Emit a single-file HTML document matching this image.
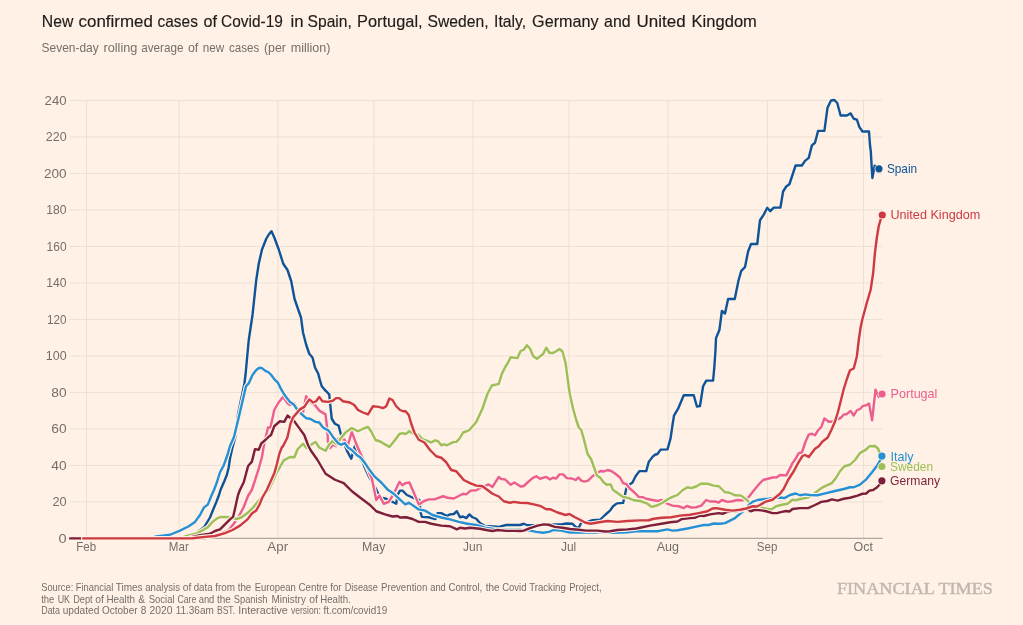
<!DOCTYPE html>
<html lang="en"><head><meta charset="utf-8"><title>Covid-19 new confirmed cases</title>
<style>html,body{margin:0;padding:0;background:#fff1e5;}body{width:1023px;height:625px;overflow:hidden;}svg{display:block;}text{font-family:"Liberation Sans",Arial,sans-serif;}</style></head><body>
<svg width="1023" height="625" viewBox="0 0 1023 625">
<rect width="1023" height="625" fill="#fff1e5"/>
<text y="27.2" font-size="16.2" fill="#1f1c1a" stroke="#1f1c1a" stroke-width="0.15"><tspan x="41.85" textLength="31.50" lengthAdjust="spacingAndGlyphs">New</tspan> <tspan x="78.60" textLength="74.25" lengthAdjust="spacingAndGlyphs">confirmed</tspan> <tspan x="157.60" textLength="40.25" lengthAdjust="spacingAndGlyphs">cases</tspan> <tspan x="203.60" textLength="13.50" lengthAdjust="spacingAndGlyphs">of</tspan> <tspan x="221.10" textLength="61.75" lengthAdjust="spacingAndGlyphs">Covid-19</tspan> <tspan x="290.60" textLength="13.00" lengthAdjust="spacingAndGlyphs">in</tspan> <tspan x="307.60" textLength="44.25" lengthAdjust="spacingAndGlyphs">Spain,</tspan> <tspan x="357.10" textLength="65.50" lengthAdjust="spacingAndGlyphs">Portugal,</tspan> <tspan x="427.60" textLength="61.00" lengthAdjust="spacingAndGlyphs">Sweden,</tspan> <tspan x="494.10" textLength="32.00" lengthAdjust="spacingAndGlyphs">Italy,</tspan> <tspan x="532.10" textLength="66.50" lengthAdjust="spacingAndGlyphs">Germany</tspan> <tspan x="604.10" textLength="26.50" lengthAdjust="spacingAndGlyphs">and</tspan> <tspan x="636.60" textLength="49.00" lengthAdjust="spacingAndGlyphs">United</tspan> <tspan x="691.60" textLength="65.25" lengthAdjust="spacingAndGlyphs">Kingdom</tspan></text>
<text y="52.20" font-size="12.6" fill="#756f6a"><tspan x="41.60" textLength="57.10" lengthAdjust="spacingAndGlyphs">Seven-day</tspan> <tspan x="103.45" textLength="33.90" lengthAdjust="spacingAndGlyphs">rolling</tspan> <tspan x="141.20" textLength="42.20" lengthAdjust="spacingAndGlyphs">average</tspan> <tspan x="187.90" textLength="10.40" lengthAdjust="spacingAndGlyphs">of</tspan> <tspan x="202.70" textLength="21.40" lengthAdjust="spacingAndGlyphs">new</tspan> <tspan x="228.90" textLength="30.30" lengthAdjust="spacingAndGlyphs">cases</tspan> <tspan x="263.90" textLength="22.00" lengthAdjust="spacingAndGlyphs">(per</tspan> <tspan x="290.70" textLength="39.80" lengthAdjust="spacingAndGlyphs">million)</tspan></text>
<g stroke="#ebe0d5" stroke-width="1" fill="none"><line x1="69.5" x2="882.5" y1="501.90" y2="501.90"/><line x1="69.5" x2="882.5" y1="465.41" y2="465.41"/><line x1="69.5" x2="882.5" y1="428.91" y2="428.91"/><line x1="69.5" x2="882.5" y1="392.42" y2="392.42"/><line x1="69.5" x2="882.5" y1="355.92" y2="355.92"/><line x1="69.5" x2="882.5" y1="319.42" y2="319.42"/><line x1="69.5" x2="882.5" y1="282.93" y2="282.93"/><line x1="69.5" x2="882.5" y1="246.43" y2="246.43"/><line x1="69.5" x2="882.5" y1="209.94" y2="209.94"/><line x1="69.5" x2="882.5" y1="173.44" y2="173.44"/><line x1="69.5" x2="882.5" y1="136.94" y2="136.94"/><line x1="69.5" x2="882.5" y1="100.45" y2="100.45"/><line x1="86.50" x2="86.50" y1="99.95" y2="538.4"/><line x1="179.10" x2="179.10" y1="99.95" y2="538.4"/><line x1="278.00" x2="278.00" y1="99.95" y2="538.4"/><line x1="374.00" x2="374.00" y1="99.95" y2="538.4"/><line x1="473.00" x2="473.00" y1="99.95" y2="538.4"/><line x1="568.90" x2="568.90" y1="99.95" y2="538.4"/><line x1="668.10" x2="668.10" y1="99.95" y2="538.4"/><line x1="767.40" x2="767.40" y1="99.95" y2="538.4"/><line x1="863.50" x2="863.50" y1="99.95" y2="538.4"/></g>
<line x1="69.5" x2="882.8" y1="538.4" y2="538.4" stroke="#b0a8a0" stroke-width="1.2"/>
<g font-size="13" fill="#756f6a" text-anchor="end"><text x="66.6" y="542.60" textLength="8.1" lengthAdjust="spacingAndGlyphs">0</text><text x="66.6" y="506.10" textLength="14.2" lengthAdjust="spacingAndGlyphs">20</text><text x="66.6" y="469.61" textLength="15.3" lengthAdjust="spacingAndGlyphs">40</text><text x="66.6" y="433.11" textLength="15.3" lengthAdjust="spacingAndGlyphs">60</text><text x="66.6" y="396.62" textLength="15.3" lengthAdjust="spacingAndGlyphs">80</text><text x="66.6" y="360.12" textLength="20.8" lengthAdjust="spacingAndGlyphs">100</text><text x="66.6" y="323.62" textLength="19.5" lengthAdjust="spacingAndGlyphs">120</text><text x="66.6" y="287.13" textLength="20.3" lengthAdjust="spacingAndGlyphs">140</text><text x="66.6" y="250.63" textLength="20.0" lengthAdjust="spacingAndGlyphs">160</text><text x="66.6" y="214.14" textLength="20.3" lengthAdjust="spacingAndGlyphs">180</text><text x="66.6" y="177.64" textLength="22.6" lengthAdjust="spacingAndGlyphs">200</text><text x="66.6" y="141.14" textLength="20.8" lengthAdjust="spacingAndGlyphs">220</text><text x="66.6" y="104.65" textLength="22.0" lengthAdjust="spacingAndGlyphs">240</text></g>
<g font-size="13" fill="#756f6a"><text x="76.25" y="550.5" textLength="19.9" lengthAdjust="spacingAndGlyphs">Feb</text><text x="168.85" y="550.5" textLength="19.9" lengthAdjust="spacingAndGlyphs">Mar</text><text x="267.30" y="550.5" textLength="20.8" lengthAdjust="spacingAndGlyphs">Apr</text><text x="362.05" y="550.5" textLength="23.3" lengthAdjust="spacingAndGlyphs">May</text><text x="463.05" y="550.5" textLength="19.3" lengthAdjust="spacingAndGlyphs">Jun</text><text x="560.95" y="550.5" textLength="15.3" lengthAdjust="spacingAndGlyphs">Jul</text><text x="656.65" y="550.5" textLength="22.3" lengthAdjust="spacingAndGlyphs">Aug</text><text x="756.85" y="550.5" textLength="20.5" lengthAdjust="spacingAndGlyphs">Sep</text><text x="853.55" y="550.5" textLength="19.3" lengthAdjust="spacingAndGlyphs">Oct</text></g>
<g fill="none" stroke-linejoin="round" stroke-linecap="round">
<path d="M70.10,538.40 L182.50,538.00 L195.00,533.75 L204.40,526.90 L210.00,517.50 L213.00,510.00 L216.25,502.25 L219.00,495.00 L220.60,489.75 L224.40,481.00 L226.90,474.75 L228.75,467.25 L230.00,458.50 L232.50,447.25 L235.00,438.50 L238.10,413.75 L244.40,383.75 L245.50,375.00 L248.75,340.00 L252.50,315.00 L256.25,280.00 L258.75,263.75 L262.00,249.50 L266.25,238.75 L268.75,234.50 L271.50,231.25 L274.50,238.00 L278.75,249.50 L283.25,263.75 L287.50,270.00 L291.25,281.25 L294.50,298.75 L297.50,307.50 L301.00,317.50 L303.00,332.50 L306.25,345.00 L309.25,353.75 L312.50,357.50 L315.00,367.50 L318.25,373.75 L319.90,380.00 L321.75,386.25 L325.50,390.60 L329.25,394.40 L330.25,405.00 L331.75,418.75 L334.90,423.75 L338.60,425.60 L341.10,435.00 L344.00,443.00 L346.90,450.60 L351.25,458.75 L355.00,445.60 L357.00,453.00 L360.00,458.50 L363.00,462.50 L365.00,468.10 L368.75,476.25 L372.50,483.00 L376.25,489.40 L380.00,497.50 L386.25,498.75 L391.25,501.25 L396.25,503.75 L397.50,495.00 L400.00,490.60 L402.50,490.60 L406.90,495.00 L412.50,497.50 L419.40,500.00 L420.60,512.50 L421.90,516.90 L428.75,517.25 L435.60,519.00" stroke="#fff1e5" stroke-width="4.6"/>
<path d="M437.50,513.10 L441.25,513.10 L446.90,516.00 L450.00,514.40 L453.75,514.00 L456.90,511.25 L460.00,517.25 L463.10,516.50 L466.25,518.10 L469.40,514.40 L472.50,517.25 L476.25,518.75 L480.00,523.10 L485.00,526.00 L490.00,526.25 L498.75,526.90 L506.25,525.00 L513.75,525.00 L520.00,525.00 L523.75,523.75 L527.50,525.25 L535.00,525.25 L555.00,524.40 L561.25,524.40 L566.25,523.50 L572.50,523.75 L575.60,526.90 L578.75,528.10 L581.25,522.50 L587.50,521.90 L592.50,520.25 L600.00,519.75 L605.00,515.00 L610.00,510.60 L613.10,506.25 L616.90,503.40 L623.10,502.90 L624.40,497.50 L626.25,488.75 L628.75,485.00 L632.50,482.50 L635.60,476.25 L639.40,471.10 L646.25,471.10 L648.75,461.90 L652.50,456.90 L655.00,454.75 L657.50,454.00 L660.60,449.60 L667.50,449.40 L670.60,438.10 L672.50,425.00 L674.00,415.60 L678.10,408.70 L683.75,395.25 L693.75,395.25 L696.90,406.50 L700.00,406.00 L703.10,386.25 L706.25,380.60 L713.10,380.60 L714.40,366.25 L715.50,350.00 L716.00,338.10 L719.40,330.00 L721.90,311.00 L725.00,313.50 L728.10,299.00 L734.75,299.00 L738.50,280.50 L741.25,270.90 L745.00,267.10 L748.10,251.50 L751.00,244.00 L757.25,244.00 L760.00,220.25 L763.75,214.60 L767.25,207.75 L770.25,211.20 L773.75,207.60 L780.40,207.60 L783.10,191.50 L786.25,186.50 L789.40,184.25 L795.60,165.50 L801.90,165.50 L805.00,160.90 L808.75,157.90 L811.90,145.40 L815.00,142.75 L818.10,130.90 L824.40,130.90 L827.50,107.75 L831.00,100.50 L834.40,100.00 L837.25,103.00 L840.60,115.50 L846.90,115.50 L850.60,113.40 L853.75,118.75 L856.90,119.60 L859.40,127.10 L862.50,131.50 L869.00,131.50 L870.00,145.25 L870.80,151.50 L872.35,178.00 L874.70,165.80 L878.95,168.80" stroke="#fff1e5" stroke-width="4.6"/>
<path d="M70.10,538.40 L182.50,538.00 L195.00,533.75 L204.40,526.90 L210.00,517.50 L213.00,510.00 L216.25,502.25 L219.00,495.00 L220.60,489.75 L224.40,481.00 L226.90,474.75 L228.75,467.25 L230.00,458.50 L232.50,447.25 L235.00,438.50 L238.10,413.75 L244.40,383.75 L245.50,375.00 L248.75,340.00 L252.50,315.00 L256.25,280.00 L258.75,263.75 L262.00,249.50 L266.25,238.75 L268.75,234.50 L271.50,231.25 L274.50,238.00 L278.75,249.50 L283.25,263.75 L287.50,270.00 L291.25,281.25 L294.50,298.75 L297.50,307.50 L301.00,317.50 L303.00,332.50 L306.25,345.00 L309.25,353.75 L312.50,357.50 L315.00,367.50 L318.25,373.75 L319.90,380.00 L321.75,386.25 L325.50,390.60 L329.25,394.40 L330.25,405.00 L331.75,418.75 L334.90,423.75 L338.60,425.60 L341.10,435.00 L344.00,443.00 L346.90,450.60 L351.25,458.75 L355.00,445.60 L357.00,453.00 L360.00,458.50 L363.00,462.50 L365.00,468.10 L368.75,476.25 L372.50,483.00 L376.25,489.40 L380.00,497.50 L386.25,498.75 L391.25,501.25 L396.25,503.75 L397.50,495.00 L400.00,490.60 L402.50,490.60 L406.90,495.00 L412.50,497.50 L419.40,500.00 L420.60,512.50 L421.90,516.90 L428.75,517.25 L435.60,519.00" stroke="#0f5499" stroke-width="2.4"/>
<path d="M437.50,513.10 L441.25,513.10 L446.90,516.00 L450.00,514.40 L453.75,514.00 L456.90,511.25 L460.00,517.25 L463.10,516.50 L466.25,518.10 L469.40,514.40 L472.50,517.25 L476.25,518.75 L480.00,523.10 L485.00,526.00 L490.00,526.25 L498.75,526.90 L506.25,525.00 L513.75,525.00 L520.00,525.00 L523.75,523.75 L527.50,525.25 L535.00,525.25 L555.00,524.40 L561.25,524.40 L566.25,523.50 L572.50,523.75 L575.60,526.90 L578.75,528.10 L581.25,522.50 L587.50,521.90 L592.50,520.25 L600.00,519.75 L605.00,515.00 L610.00,510.60 L613.10,506.25 L616.90,503.40 L623.10,502.90 L624.40,497.50 L626.25,488.75 L628.75,485.00 L632.50,482.50 L635.60,476.25 L639.40,471.10 L646.25,471.10 L648.75,461.90 L652.50,456.90 L655.00,454.75 L657.50,454.00 L660.60,449.60 L667.50,449.40 L670.60,438.10 L672.50,425.00 L674.00,415.60 L678.10,408.70 L683.75,395.25 L693.75,395.25 L696.90,406.50 L700.00,406.00 L703.10,386.25 L706.25,380.60 L713.10,380.60 L714.40,366.25 L715.50,350.00 L716.00,338.10 L719.40,330.00 L721.90,311.00 L725.00,313.50 L728.10,299.00 L734.75,299.00 L738.50,280.50 L741.25,270.90 L745.00,267.10 L748.10,251.50 L751.00,244.00 L757.25,244.00 L760.00,220.25 L763.75,214.60 L767.25,207.75 L770.25,211.20 L773.75,207.60 L780.40,207.60 L783.10,191.50 L786.25,186.50 L789.40,184.25 L795.60,165.50 L801.90,165.50 L805.00,160.90 L808.75,157.90 L811.90,145.40 L815.00,142.75 L818.10,130.90 L824.40,130.90 L827.50,107.75 L831.00,100.50 L834.40,100.00 L837.25,103.00 L840.60,115.50 L846.90,115.50 L850.60,113.40 L853.75,118.75 L856.90,119.60 L859.40,127.10 L862.50,131.50 L869.00,131.50 L870.00,145.25 L870.80,151.50 L872.35,178.00 L874.70,165.80 L878.95,168.80" stroke="#0f5499" stroke-width="2.4"/>
</g>
<g fill="none" stroke-linejoin="round" stroke-linecap="round">
<path d="M70.10,538.40 L205.00,538.30 L210.00,536.25 L220.00,533.75 L228.75,530.00 L233.75,523.75 L238.75,516.50 L243.75,507.00 L248.00,496.00 L251.90,489.75 L255.00,480.40 L258.75,468.50 L261.90,457.25 L264.30,443.00 L268.00,427.50 L270.50,427.50 L274.25,410.00 L278.60,402.50 L283.00,396.90 L287.40,403.10 L290.00,405.00 L294.25,403.10 L297.00,408.00 L303.00,412.50 L306.10,396.25 L310.50,402.50 L314.90,405.00 L319.25,410.60 L325.50,414.40 L327.40,430.00 L328.00,442.50 L329.90,448.10 L333.00,445.00 L336.10,446.25 L338.00,438.75 L344.25,439.40 L348.00,445.00 L351.75,431.90 L356.75,445.00 L360.00,452.50 L363.10,458.75 L366.00,465.00 L371.90,478.75 L376.25,500.00 L379.40,495.60 L383.75,503.75 L388.75,501.90 L393.75,493.75 L399.40,481.90 L402.50,485.30 L405.60,483.10 L409.40,482.50 L413.75,492.50 L418.75,504.40 L423.75,501.25 L428.75,499.40 L434.40,499.40 L443.10,496.25 L447.50,497.75 L453.75,498.50 L458.75,496.00 L463.10,493.75 L466.25,494.40 L470.60,490.60 L476.25,490.25 L481.25,487.50 L488.75,484.40 L492.50,486.90 L498.75,476.90 L501.25,479.00 L505.00,479.40 L510.60,484.75 L514.40,482.50 L520.60,486.50 L523.75,486.00 L527.50,482.50 L532.50,478.10 L536.25,476.25 L540.00,478.75 L546.25,476.90 L550.00,479.40 L553.10,477.75 L556.25,478.50 L559.40,474.40 L563.10,474.40 L566.90,478.10 L571.90,478.50 L575.60,480.00 L578.50,477.50 L581.25,480.60 L584.40,481.60 L588.10,480.60 L592.50,476.25 L596.50,473.50 L600.60,471.00 L603.75,471.50 L607.50,470.00 L611.25,471.00 L615.00,473.50 L620.00,477.50 L623.10,483.10 L626.25,484.00 L629.40,488.10 L634.40,492.50 L638.75,496.90 L643.10,497.25 L646.25,498.75 L652.50,500.00 L657.50,501.00 L661.90,500.00 L666.90,503.50 L672.50,505.60 L678.75,506.25 L683.75,508.10 L686.90,506.00 L691.25,507.50 L696.25,507.25 L701.25,505.60 L706.25,500.00 L710.00,501.50 L715.00,501.50 L718.75,502.50 L721.90,500.00 L727.50,501.90 L732.50,501.25 L737.50,500.00 L742.50,500.40 L746.00,499.50 L748.75,496.90 L753.75,490.60 L758.75,484.40 L763.10,480.00 L767.00,479.00 L772.50,477.50 L776.90,477.25 L780.00,475.00 L786.25,475.40 L789.40,469.40 L792.50,463.10 L795.60,458.75 L798.75,453.10 L801.90,452.50 L805.60,441.50 L808.75,434.60 L811.90,433.75 L815.00,435.25 L818.10,430.25 L821.25,427.10 L824.40,418.40 L828.75,421.75 L832.50,421.50 L836.50,419.50 L840.60,418.00 L843.75,414.60 L846.90,414.00 L850.60,410.90 L853.75,415.50 L856.90,410.25 L860.00,409.00 L863.10,405.90 L866.25,405.25 L869.00,403.40 L872.10,420.25 L875.50,389.70 L878.70,397.00 L882.00,393.90" stroke="#fff1e5" stroke-width="4.6"/>
<path d="M70.10,538.40 L205.00,538.30 L210.00,536.25 L220.00,533.75 L228.75,530.00 L233.75,523.75 L238.75,516.50 L243.75,507.00 L248.00,496.00 L251.90,489.75 L255.00,480.40 L258.75,468.50 L261.90,457.25 L264.30,443.00 L268.00,427.50 L270.50,427.50 L274.25,410.00 L278.60,402.50 L283.00,396.90 L287.40,403.10 L290.00,405.00 L294.25,403.10 L297.00,408.00 L303.00,412.50 L306.10,396.25 L310.50,402.50 L314.90,405.00 L319.25,410.60 L325.50,414.40 L327.40,430.00 L328.00,442.50 L329.90,448.10 L333.00,445.00 L336.10,446.25 L338.00,438.75 L344.25,439.40 L348.00,445.00 L351.75,431.90 L356.75,445.00 L360.00,452.50 L363.10,458.75 L366.00,465.00 L371.90,478.75 L376.25,500.00 L379.40,495.60 L383.75,503.75 L388.75,501.90 L393.75,493.75 L399.40,481.90 L402.50,485.30 L405.60,483.10 L409.40,482.50 L413.75,492.50 L418.75,504.40 L423.75,501.25 L428.75,499.40 L434.40,499.40 L443.10,496.25 L447.50,497.75 L453.75,498.50 L458.75,496.00 L463.10,493.75 L466.25,494.40 L470.60,490.60 L476.25,490.25 L481.25,487.50 L488.75,484.40 L492.50,486.90 L498.75,476.90 L501.25,479.00 L505.00,479.40 L510.60,484.75 L514.40,482.50 L520.60,486.50 L523.75,486.00 L527.50,482.50 L532.50,478.10 L536.25,476.25 L540.00,478.75 L546.25,476.90 L550.00,479.40 L553.10,477.75 L556.25,478.50 L559.40,474.40 L563.10,474.40 L566.90,478.10 L571.90,478.50 L575.60,480.00 L578.50,477.50 L581.25,480.60 L584.40,481.60 L588.10,480.60 L592.50,476.25 L596.50,473.50 L600.60,471.00 L603.75,471.50 L607.50,470.00 L611.25,471.00 L615.00,473.50 L620.00,477.50 L623.10,483.10 L626.25,484.00 L629.40,488.10 L634.40,492.50 L638.75,496.90 L643.10,497.25 L646.25,498.75 L652.50,500.00 L657.50,501.00 L661.90,500.00 L666.90,503.50 L672.50,505.60 L678.75,506.25 L683.75,508.10 L686.90,506.00 L691.25,507.50 L696.25,507.25 L701.25,505.60 L706.25,500.00 L710.00,501.50 L715.00,501.50 L718.75,502.50 L721.90,500.00 L727.50,501.90 L732.50,501.25 L737.50,500.00 L742.50,500.40 L746.00,499.50 L748.75,496.90 L753.75,490.60 L758.75,484.40 L763.10,480.00 L767.00,479.00 L772.50,477.50 L776.90,477.25 L780.00,475.00 L786.25,475.40 L789.40,469.40 L792.50,463.10 L795.60,458.75 L798.75,453.10 L801.90,452.50 L805.60,441.50 L808.75,434.60 L811.90,433.75 L815.00,435.25 L818.10,430.25 L821.25,427.10 L824.40,418.40 L828.75,421.75 L832.50,421.50 L836.50,419.50 L840.60,418.00 L843.75,414.60 L846.90,414.00 L850.60,410.90 L853.75,415.50 L856.90,410.25 L860.00,409.00 L863.10,405.90 L866.25,405.25 L869.00,403.40 L872.10,420.25 L875.50,389.70 L878.70,397.00 L882.00,393.90" stroke="#eb5e8d" stroke-width="2.4"/>
</g>
<g fill="none" stroke-linejoin="round" stroke-linecap="round">
<path d="M70.10,538.40 L180.00,538.30 L187.50,535.60 L197.50,533.10 L207.50,527.50 L212.50,521.90 L217.50,518.10 L221.25,516.90 L230.00,517.25 L236.25,519.00 L241.25,517.50 L247.50,513.10 L253.10,507.50 L257.50,502.10 L263.00,496.00 L268.75,489.75 L276.25,473.50 L283.75,460.40 L290.00,457.00 L294.40,457.30 L297.50,449.50 L299.25,447.50 L303.00,443.75 L306.75,448.10 L310.50,445.00 L315.50,441.90 L319.25,447.50 L325.50,450.80 L329.25,444.40 L332.40,441.25 L336.75,444.40 L340.50,438.75 L345.50,432.50 L351.75,428.10 L358.00,431.25 L363.00,428.75 L368.00,426.90 L371.10,431.25 L375.50,440.00 L380.20,441.50 L385.00,444.40 L389.40,446.90 L395.00,440.00 L399.40,434.00 L402.50,433.10 L405.60,434.00 L409.40,431.25 L413.00,433.50 L418.75,435.00 L422.50,439.40 L426.90,440.60 L431.25,442.50 L435.00,440.40 L438.10,441.25 L441.25,445.25 L443.75,444.40 L446.90,445.25 L453.10,442.10 L456.25,441.90 L459.40,438.75 L463.10,432.50 L466.25,431.50 L469.40,430.00 L476.25,421.90 L482.50,408.50 L487.50,393.75 L491.90,385.50 L498.75,383.90 L501.90,373.75 L505.00,367.50 L508.10,362.50 L510.60,357.25 L517.50,358.10 L520.60,351.00 L523.75,349.75 L526.90,345.25 L530.00,348.50 L533.10,356.00 L536.90,358.75 L543.10,354.00 L546.25,347.75 L549.40,352.75 L552.50,353.10 L556.25,351.25 L559.40,349.00 L562.50,351.50 L565.60,363.10 L567.50,377.50 L569.40,391.25 L570.00,395.00 L573.10,408.75 L576.25,420.00 L578.75,427.50 L581.25,430.00 L583.75,438.75 L587.50,453.75 L591.25,459.50 L596.90,475.60 L600.60,478.10 L603.75,482.50 L606.90,484.75 L610.60,484.40 L613.10,490.00 L617.50,493.10 L623.10,496.90 L628.75,498.10 L633.75,500.25 L640.00,501.00 L646.25,503.10 L651.90,506.90 L657.50,505.25 L662.50,502.75 L668.10,499.00 L672.50,496.90 L677.50,495.00 L682.50,490.25 L687.50,487.25 L691.25,488.10 L696.25,486.50 L700.60,483.75 L707.50,483.75 L713.75,485.60 L718.75,486.25 L725.00,492.25 L728.75,492.50 L735.00,495.25 L741.25,495.60 L746.25,499.40 L750.00,503.10 L755.00,505.50 L760.00,507.30 L766.25,508.75 L771.25,509.40 L776.25,506.25 L781.90,504.75 L787.50,503.75 L792.50,499.75 L795.60,500.25 L802.50,498.50 L808.75,497.25 L815.00,493.00 L821.25,488.10 L826.25,485.60 L831.90,483.10 L836.25,477.50 L840.00,471.25 L844.40,466.25 L850.00,464.75 L855.00,460.00 L860.00,453.10 L866.25,449.40 L869.40,446.25 L875.00,446.00 L878.10,448.75 L880.00,453.75 L881.90,466.50" stroke="#fff1e5" stroke-width="4.6"/>
<path d="M70.10,538.40 L180.00,538.30 L187.50,535.60 L197.50,533.10 L207.50,527.50 L212.50,521.90 L217.50,518.10 L221.25,516.90 L230.00,517.25 L236.25,519.00 L241.25,517.50 L247.50,513.10 L253.10,507.50 L257.50,502.10 L263.00,496.00 L268.75,489.75 L276.25,473.50 L283.75,460.40 L290.00,457.00 L294.40,457.30 L297.50,449.50 L299.25,447.50 L303.00,443.75 L306.75,448.10 L310.50,445.00 L315.50,441.90 L319.25,447.50 L325.50,450.80 L329.25,444.40 L332.40,441.25 L336.75,444.40 L340.50,438.75 L345.50,432.50 L351.75,428.10 L358.00,431.25 L363.00,428.75 L368.00,426.90 L371.10,431.25 L375.50,440.00 L380.20,441.50 L385.00,444.40 L389.40,446.90 L395.00,440.00 L399.40,434.00 L402.50,433.10 L405.60,434.00 L409.40,431.25 L413.00,433.50 L418.75,435.00 L422.50,439.40 L426.90,440.60 L431.25,442.50 L435.00,440.40 L438.10,441.25 L441.25,445.25 L443.75,444.40 L446.90,445.25 L453.10,442.10 L456.25,441.90 L459.40,438.75 L463.10,432.50 L466.25,431.50 L469.40,430.00 L476.25,421.90 L482.50,408.50 L487.50,393.75 L491.90,385.50 L498.75,383.90 L501.90,373.75 L505.00,367.50 L508.10,362.50 L510.60,357.25 L517.50,358.10 L520.60,351.00 L523.75,349.75 L526.90,345.25 L530.00,348.50 L533.10,356.00 L536.90,358.75 L543.10,354.00 L546.25,347.75 L549.40,352.75 L552.50,353.10 L556.25,351.25 L559.40,349.00 L562.50,351.50 L565.60,363.10 L567.50,377.50 L569.40,391.25 L570.00,395.00 L573.10,408.75 L576.25,420.00 L578.75,427.50 L581.25,430.00 L583.75,438.75 L587.50,453.75 L591.25,459.50 L596.90,475.60 L600.60,478.10 L603.75,482.50 L606.90,484.75 L610.60,484.40 L613.10,490.00 L617.50,493.10 L623.10,496.90 L628.75,498.10 L633.75,500.25 L640.00,501.00 L646.25,503.10 L651.90,506.90 L657.50,505.25 L662.50,502.75 L668.10,499.00 L672.50,496.90 L677.50,495.00 L682.50,490.25 L687.50,487.25 L691.25,488.10 L696.25,486.50 L700.60,483.75 L707.50,483.75 L713.75,485.60 L718.75,486.25 L725.00,492.25 L728.75,492.50 L735.00,495.25 L741.25,495.60 L746.25,499.40 L750.00,503.10 L755.00,505.50 L760.00,507.30 L766.25,508.75 L771.25,509.40 L776.25,506.25 L781.90,504.75 L787.50,503.75 L792.50,499.75 L795.60,500.25 L802.50,498.50 L808.75,497.25 L815.00,493.00 L821.25,488.10 L826.25,485.60 L831.90,483.10 L836.25,477.50 L840.00,471.25 L844.40,466.25 L850.00,464.75 L855.00,460.00 L860.00,453.10 L866.25,449.40 L869.40,446.25 L875.00,446.00 L878.10,448.75 L880.00,453.75 L881.90,466.50" stroke="#9dbf57" stroke-width="2.4"/>
</g>
<g fill="none" stroke-linejoin="round" stroke-linecap="round">
<path d="M70.10,538.40 L150.00,538.30 L156.25,536.50 L162.50,535.60 L170.00,534.75 L180.00,530.60 L188.75,526.25 L195.00,521.90 L200.00,515.00 L204.00,507.40 L207.80,504.60 L211.50,495.50 L214.40,489.00 L216.90,482.25 L220.00,472.25 L223.75,465.40 L227.50,454.75 L230.00,446.00 L234.00,437.00 L239.60,413.75 L246.00,386.20 L248.90,383.10 L252.50,375.00 L256.25,370.00 L259.40,367.75 L261.90,368.10 L265.00,370.60 L268.75,372.50 L271.25,375.00 L274.40,379.40 L277.75,382.50 L280.60,388.10 L283.75,393.75 L286.90,398.10 L290.00,401.90 L293.75,404.40 L297.50,410.00 L300.50,413.10 L306.10,418.10 L310.50,419.00 L315.50,421.90 L319.25,422.50 L323.00,427.50 L328.60,430.60 L333.00,436.90 L338.00,443.10 L341.10,444.75 L344.90,443.10 L348.00,447.50 L351.75,450.00 L356.75,455.00 L360.50,457.50 L365.00,463.10 L370.00,470.60 L375.00,476.90 L381.25,482.50 L387.50,489.40 L393.75,493.75 L400.00,499.70 L405.30,504.40 L409.00,502.60 L413.10,505.60 L418.75,509.40 L425.00,510.60 L432.50,515.00 L441.25,517.50 L450.00,519.40 L458.75,521.90 L467.50,523.75 L476.25,525.00 L485.00,527.60 L495.00,529.20 L506.25,529.80 L520.00,529.80 L530.00,530.60 L536.25,531.90 L543.10,532.75 L548.75,531.90 L553.75,530.00 L561.25,530.60 L570.00,532.50 L582.50,532.50 L595.00,532.50 L605.00,531.90 L612.50,532.75 L627.50,532.25 L636.25,531.25 L648.75,531.25 L657.50,531.25 L667.50,529.40 L672.50,530.60 L677.50,530.25 L687.50,528.50 L695.00,526.90 L703.75,525.00 L708.75,525.00 L713.75,523.50 L720.00,523.75 L725.00,523.10 L730.00,520.60 L735.00,518.10 L740.00,513.75 L745.00,510.00 L748.75,505.00 L752.50,501.90 L757.50,500.00 L763.10,499.20 L768.75,498.75 L775.00,498.00 L780.60,497.50 L784.40,498.10 L790.00,495.00 L795.60,493.50 L800.00,495.25 L805.00,494.40 L810.00,495.00 L817.50,495.25 L826.25,493.10 L835.00,491.00 L843.75,489.00 L850.00,487.25 L853.75,487.25 L860.00,484.70 L866.25,479.30 L871.25,473.30 L876.25,466.80 L880.00,460.60 L881.90,456.10" stroke="#fff1e5" stroke-width="4.6"/>
<path d="M70.10,538.40 L150.00,538.30 L156.25,536.50 L162.50,535.60 L170.00,534.75 L180.00,530.60 L188.75,526.25 L195.00,521.90 L200.00,515.00 L204.00,507.40 L207.80,504.60 L211.50,495.50 L214.40,489.00 L216.90,482.25 L220.00,472.25 L223.75,465.40 L227.50,454.75 L230.00,446.00 L234.00,437.00 L239.60,413.75 L246.00,386.20 L248.90,383.10 L252.50,375.00 L256.25,370.00 L259.40,367.75 L261.90,368.10 L265.00,370.60 L268.75,372.50 L271.25,375.00 L274.40,379.40 L277.75,382.50 L280.60,388.10 L283.75,393.75 L286.90,398.10 L290.00,401.90 L293.75,404.40 L297.50,410.00 L300.50,413.10 L306.10,418.10 L310.50,419.00 L315.50,421.90 L319.25,422.50 L323.00,427.50 L328.60,430.60 L333.00,436.90 L338.00,443.10 L341.10,444.75 L344.90,443.10 L348.00,447.50 L351.75,450.00 L356.75,455.00 L360.50,457.50 L365.00,463.10 L370.00,470.60 L375.00,476.90 L381.25,482.50 L387.50,489.40 L393.75,493.75 L400.00,499.70 L405.30,504.40 L409.00,502.60 L413.10,505.60 L418.75,509.40 L425.00,510.60 L432.50,515.00 L441.25,517.50 L450.00,519.40 L458.75,521.90 L467.50,523.75 L476.25,525.00 L485.00,527.60 L495.00,529.20 L506.25,529.80 L520.00,529.80 L530.00,530.60 L536.25,531.90 L543.10,532.75 L548.75,531.90 L553.75,530.00 L561.25,530.60 L570.00,532.50 L582.50,532.50 L595.00,532.50 L605.00,531.90 L612.50,532.75 L627.50,532.25 L636.25,531.25 L648.75,531.25 L657.50,531.25 L667.50,529.40 L672.50,530.60 L677.50,530.25 L687.50,528.50 L695.00,526.90 L703.75,525.00 L708.75,525.00 L713.75,523.50 L720.00,523.75 L725.00,523.10 L730.00,520.60 L735.00,518.10 L740.00,513.75 L745.00,510.00 L748.75,505.00 L752.50,501.90 L757.50,500.00 L763.10,499.20 L768.75,498.75 L775.00,498.00 L780.60,497.50 L784.40,498.10 L790.00,495.00 L795.60,493.50 L800.00,495.25 L805.00,494.40 L810.00,495.00 L817.50,495.25 L826.25,493.10 L835.00,491.00 L843.75,489.00 L850.00,487.25 L853.75,487.25 L860.00,484.70 L866.25,479.30 L871.25,473.30 L876.25,466.80 L880.00,460.60 L881.90,456.10" stroke="#2690d4" stroke-width="2.4"/>
</g>
<g fill="none" stroke-linejoin="round" stroke-linecap="round">
<path d="M70.10,538.40 L188.00,538.30 L192.50,536.90 L200.00,535.25 L210.00,533.75 L215.00,531.00 L220.00,529.40 L225.00,524.40 L230.00,519.40 L233.10,516.90 L235.00,508.75 L236.90,500.00 L238.10,494.75 L240.00,489.75 L243.75,482.25 L248.10,466.00 L251.90,461.60 L255.00,449.10 L258.75,449.75 L261.25,443.50 L265.60,439.75 L269.25,436.25 L271.00,435.00 L274.25,426.25 L279.90,421.25 L284.25,421.90 L287.60,415.60 L289.90,417.50 L294.25,421.25 L299.25,428.10 L304.25,435.00 L308.00,445.00 L310.50,450.00 L317.50,460.00 L325.60,473.75 L335.00,479.75 L343.75,483.10 L351.90,491.25 L360.00,497.50 L370.00,505.00 L376.25,511.25 L385.00,514.40 L392.50,516.50 L397.50,516.00 L400.00,517.50 L406.25,517.25 L412.50,519.00 L418.75,521.90 L425.00,521.90 L431.25,523.75 L441.25,525.60 L450.00,526.25 L456.90,529.40 L460.00,527.75 L465.00,528.50 L470.00,527.75 L480.00,528.75 L487.50,530.25 L492.50,531.00 L497.50,530.00 L506.25,530.90 L515.00,530.90 L520.00,531.00 L523.75,530.60 L530.00,528.10 L537.50,525.60 L543.75,524.40 L548.75,524.75 L555.00,526.90 L562.50,527.75 L570.00,529.00 L578.75,529.75 L586.25,530.60 L597.50,530.60 L605.00,531.50 L610.00,531.25 L617.50,530.00 L627.50,529.40 L636.25,528.50 L640.00,527.75 L650.00,525.60 L660.00,524.00 L670.00,522.25 L677.50,521.50 L681.90,519.00 L690.00,518.10 L695.00,517.75 L700.00,515.60 L703.75,516.00 L710.00,514.40 L718.75,513.10 L722.50,513.75 L727.50,511.90 L733.00,511.50 L740.00,510.60 L747.50,509.00 L750.60,511.25 L755.00,509.75 L761.25,510.40 L766.25,511.25 L772.50,513.10 L776.90,513.10 L781.90,511.90 L786.25,511.00 L789.40,511.50 L792.50,509.00 L800.00,508.10 L808.10,508.10 L815.00,505.00 L821.25,501.90 L827.50,501.00 L831.90,499.40 L837.50,500.60 L843.75,498.75 L850.00,497.75 L857.50,495.60 L862.50,493.75 L866.25,493.50 L869.40,490.60 L873.10,490.00 L876.90,487.50 L880.00,484.20 L881.90,480.85" stroke="#fff1e5" stroke-width="4.6"/>
<path d="M70.10,538.40 L188.00,538.30 L192.50,536.90 L200.00,535.25 L210.00,533.75 L215.00,531.00 L220.00,529.40 L225.00,524.40 L230.00,519.40 L233.10,516.90 L235.00,508.75 L236.90,500.00 L238.10,494.75 L240.00,489.75 L243.75,482.25 L248.10,466.00 L251.90,461.60 L255.00,449.10 L258.75,449.75 L261.25,443.50 L265.60,439.75 L269.25,436.25 L271.00,435.00 L274.25,426.25 L279.90,421.25 L284.25,421.90 L287.60,415.60 L289.90,417.50 L294.25,421.25 L299.25,428.10 L304.25,435.00 L308.00,445.00 L310.50,450.00 L317.50,460.00 L325.60,473.75 L335.00,479.75 L343.75,483.10 L351.90,491.25 L360.00,497.50 L370.00,505.00 L376.25,511.25 L385.00,514.40 L392.50,516.50 L397.50,516.00 L400.00,517.50 L406.25,517.25 L412.50,519.00 L418.75,521.90 L425.00,521.90 L431.25,523.75 L441.25,525.60 L450.00,526.25 L456.90,529.40 L460.00,527.75 L465.00,528.50 L470.00,527.75 L480.00,528.75 L487.50,530.25 L492.50,531.00 L497.50,530.00 L506.25,530.90 L515.00,530.90 L520.00,531.00 L523.75,530.60 L530.00,528.10 L537.50,525.60 L543.75,524.40 L548.75,524.75 L555.00,526.90 L562.50,527.75 L570.00,529.00 L578.75,529.75 L586.25,530.60 L597.50,530.60 L605.00,531.50 L610.00,531.25 L617.50,530.00 L627.50,529.40 L636.25,528.50 L640.00,527.75 L650.00,525.60 L660.00,524.00 L670.00,522.25 L677.50,521.50 L681.90,519.00 L690.00,518.10 L695.00,517.75 L700.00,515.60 L703.75,516.00 L710.00,514.40 L718.75,513.10 L722.50,513.75 L727.50,511.90 L733.00,511.50 L740.00,510.60 L747.50,509.00 L750.60,511.25 L755.00,509.75 L761.25,510.40 L766.25,511.25 L772.50,513.10 L776.90,513.10 L781.90,511.90 L786.25,511.00 L789.40,511.50 L792.50,509.00 L800.00,508.10 L808.10,508.10 L815.00,505.00 L821.25,501.90 L827.50,501.00 L831.90,499.40 L837.50,500.60 L843.75,498.75 L850.00,497.75 L857.50,495.60 L862.50,493.75 L866.25,493.50 L869.40,490.60 L873.10,490.00 L876.90,487.50 L880.00,484.20 L881.90,480.85" stroke="#7d1f3a" stroke-width="2.4"/>
</g>
<g fill="none" stroke-linejoin="round" stroke-linecap="round">
<path d="M83.20,538.40 L192.50,538.20 L205.00,536.90 L215.00,536.00 L225.00,533.10 L232.50,530.00 L240.00,525.60 L247.50,519.40 L251.90,513.50 L256.25,510.40 L259.40,504.75 L262.50,497.25 L266.90,489.75 L270.60,481.60 L274.40,472.90 L276.90,464.10 L279.40,453.50 L281.90,447.25 L283.00,446.25 L287.40,437.50 L290.50,423.75 L293.00,417.50 L299.90,409.40 L304.25,406.90 L309.25,399.40 L313.00,402.50 L316.10,401.25 L319.25,396.90 L322.40,401.25 L328.00,401.90 L333.00,400.60 L336.10,398.10 L339.25,398.10 L343.00,401.25 L349.90,402.50 L354.25,405.00 L358.00,410.00 L363.00,412.50 L368.00,414.40 L373.00,406.25 L378.60,406.90 L383.10,408.10 L386.25,406.25 L389.40,398.50 L392.50,400.00 L396.25,406.25 L400.00,410.00 L403.10,411.25 L405.60,411.25 L408.75,415.00 L411.25,423.75 L414.40,432.50 L418.75,439.75 L424.40,442.50 L430.00,450.00 L436.25,456.25 L441.25,457.75 L446.00,462.00 L451.25,470.00 L456.25,471.25 L460.00,475.60 L463.75,480.00 L470.00,483.10 L476.25,485.60 L482.50,486.25 L487.50,490.00 L492.50,493.75 L498.75,496.50 L503.75,501.25 L510.00,502.75 L513.75,501.90 L520.00,502.75 L527.50,503.00 L533.75,504.40 L540.00,505.80 L546.25,509.20 L550.00,509.20 L557.50,512.50 L565.60,515.00 L569.40,514.00 L575.00,517.20 L580.00,519.75 L585.00,522.50 L590.60,523.75 L597.50,522.50 L607.50,521.00 L617.50,521.90 L627.50,521.00 L640.00,520.40 L648.75,520.25 L653.75,518.75 L661.90,517.75 L671.25,517.25 L680.00,515.60 L690.00,514.75 L698.75,513.10 L707.50,511.25 L712.50,508.50 L716.25,508.10 L725.00,509.75 L732.50,510.60 L740.00,509.75 L746.25,508.50 L752.50,506.25 L756.90,506.50 L760.00,505.00 L765.00,501.90 L772.50,499.75 L780.00,493.75 L783.75,488.75 L788.10,480.00 L793.75,471.25 L798.75,461.90 L802.50,456.00 L805.00,455.00 L808.75,456.90 L815.00,448.75 L818.75,446.25 L822.50,441.50 L827.50,437.75 L831.25,430.25 L835.00,421.50 L838.10,411.50 L841.25,399.00 L843.75,389.00 L846.90,379.00 L850.00,370.25 L853.75,368.50 L856.90,356.25 L858.75,340.00 L860.60,327.50 L862.50,318.75 L866.90,302.50 L870.60,290.00 L873.10,273.50 L875.00,252.25 L876.90,237.25 L878.75,226.00 L880.60,219.75 L882.25,215.00" stroke="#fff1e5" stroke-width="4.6"/>
<path d="M83.20,538.40 L192.50,538.20 L205.00,536.90 L215.00,536.00 L225.00,533.10 L232.50,530.00 L240.00,525.60 L247.50,519.40 L251.90,513.50 L256.25,510.40 L259.40,504.75 L262.50,497.25 L266.90,489.75 L270.60,481.60 L274.40,472.90 L276.90,464.10 L279.40,453.50 L281.90,447.25 L283.00,446.25 L287.40,437.50 L290.50,423.75 L293.00,417.50 L299.90,409.40 L304.25,406.90 L309.25,399.40 L313.00,402.50 L316.10,401.25 L319.25,396.90 L322.40,401.25 L328.00,401.90 L333.00,400.60 L336.10,398.10 L339.25,398.10 L343.00,401.25 L349.90,402.50 L354.25,405.00 L358.00,410.00 L363.00,412.50 L368.00,414.40 L373.00,406.25 L378.60,406.90 L383.10,408.10 L386.25,406.25 L389.40,398.50 L392.50,400.00 L396.25,406.25 L400.00,410.00 L403.10,411.25 L405.60,411.25 L408.75,415.00 L411.25,423.75 L414.40,432.50 L418.75,439.75 L424.40,442.50 L430.00,450.00 L436.25,456.25 L441.25,457.75 L446.00,462.00 L451.25,470.00 L456.25,471.25 L460.00,475.60 L463.75,480.00 L470.00,483.10 L476.25,485.60 L482.50,486.25 L487.50,490.00 L492.50,493.75 L498.75,496.50 L503.75,501.25 L510.00,502.75 L513.75,501.90 L520.00,502.75 L527.50,503.00 L533.75,504.40 L540.00,505.80 L546.25,509.20 L550.00,509.20 L557.50,512.50 L565.60,515.00 L569.40,514.00 L575.00,517.20 L580.00,519.75 L585.00,522.50 L590.60,523.75 L597.50,522.50 L607.50,521.00 L617.50,521.90 L627.50,521.00 L640.00,520.40 L648.75,520.25 L653.75,518.75 L661.90,517.75 L671.25,517.25 L680.00,515.60 L690.00,514.75 L698.75,513.10 L707.50,511.25 L712.50,508.50 L716.25,508.10 L725.00,509.75 L732.50,510.60 L740.00,509.75 L746.25,508.50 L752.50,506.25 L756.90,506.50 L760.00,505.00 L765.00,501.90 L772.50,499.75 L780.00,493.75 L783.75,488.75 L788.10,480.00 L793.75,471.25 L798.75,461.90 L802.50,456.00 L805.00,455.00 L808.75,456.90 L815.00,448.75 L818.75,446.25 L822.50,441.50 L827.50,437.75 L831.25,430.25 L835.00,421.50 L838.10,411.50 L841.25,399.00 L843.75,389.00 L846.90,379.00 L850.00,370.25 L853.75,368.50 L856.90,356.25 L858.75,340.00 L860.60,327.50 L862.50,318.75 L866.90,302.50 L870.60,290.00 L873.10,273.50 L875.00,252.25 L876.90,237.25 L878.75,226.00 L880.60,219.75 L882.25,215.00" stroke="#cd3a42" stroke-width="2.4"/>
</g>
<circle cx="878.95" cy="168.80" r="3.6" fill="#0f5499" stroke="#fff1e5" stroke-width="1.6" paint-order="stroke"/>
<circle cx="882.00" cy="394.00" r="3.6" fill="#eb5e8d" stroke="#fff1e5" stroke-width="1.6" paint-order="stroke"/>
<circle cx="881.90" cy="466.50" r="3.6" fill="#9dbf57" stroke="#fff1e5" stroke-width="1.6" paint-order="stroke"/>
<circle cx="881.90" cy="456.10" r="3.6" fill="#2690d4" stroke="#fff1e5" stroke-width="1.6" paint-order="stroke"/>
<circle cx="881.90" cy="480.85" r="3.6" fill="#7d1f3a" stroke="#fff1e5" stroke-width="1.6" paint-order="stroke"/>
<circle cx="882.25" cy="215.00" r="3.6" fill="#cd3a42" stroke="#fff1e5" stroke-width="1.6" paint-order="stroke"/>
<text x="886.9" y="173.25" font-size="13.3" fill="#0f5499" textLength="30.2" lengthAdjust="spacingAndGlyphs">Spain</text>
<text x="890.6" y="398.45" font-size="13.3" fill="#eb5e8d" textLength="46.8" lengthAdjust="spacingAndGlyphs">Portugal</text>
<text x="890.1" y="470.95" font-size="13.3" fill="#9dbf57" textLength="43.0" lengthAdjust="spacingAndGlyphs">Sweden</text>
<text x="890.6" y="460.55" font-size="13.3" fill="#2690d4" textLength="23.0" lengthAdjust="spacingAndGlyphs">Italy</text>
<text x="890.1" y="485.30" font-size="13.3" fill="#7d1f3a" textLength="50.0" lengthAdjust="spacingAndGlyphs">Germany</text>
<text x="890.4" y="219.45" font-size="13.3" fill="#cd3a42" textLength="89.9" lengthAdjust="spacingAndGlyphs">United Kingdom</text>
<text y="591.20" font-size="10.4" fill="#756f6a"><tspan x="41.20" textLength="32.10" lengthAdjust="spacingAndGlyphs">Source:</tspan> <tspan x="75.70" textLength="37.60" lengthAdjust="spacingAndGlyphs">Financial</tspan> <tspan x="115.70" textLength="26.85" lengthAdjust="spacingAndGlyphs">Times</tspan> <tspan x="145.20" textLength="34.85" lengthAdjust="spacingAndGlyphs">analysis</tspan> <tspan x="182.70" textLength="8.60" lengthAdjust="spacingAndGlyphs">of</tspan> <tspan x="193.70" textLength="18.85" lengthAdjust="spacingAndGlyphs">data</tspan> <tspan x="215.20" textLength="19.85" lengthAdjust="spacingAndGlyphs">from</tspan> <tspan x="237.70" textLength="13.60" lengthAdjust="spacingAndGlyphs">the</tspan> <tspan x="254.70" textLength="41.10" lengthAdjust="spacingAndGlyphs">European</tspan> <tspan x="298.45" textLength="29.35" lengthAdjust="spacingAndGlyphs">Centre</tspan> <tspan x="330.20" textLength="11.35" lengthAdjust="spacingAndGlyphs">for</tspan> <tspan x="344.70" textLength="33.10" lengthAdjust="spacingAndGlyphs">Disease</tspan> <tspan x="380.95" textLength="46.35" lengthAdjust="spacingAndGlyphs">Prevention</tspan> <tspan x="430.20" textLength="15.60" lengthAdjust="spacingAndGlyphs">and</tspan> <tspan x="448.45" textLength="33.85" lengthAdjust="spacingAndGlyphs">Control,</tspan> <tspan x="485.70" textLength="13.85" lengthAdjust="spacingAndGlyphs">the</tspan> <tspan x="502.20" textLength="24.35" lengthAdjust="spacingAndGlyphs">Covid</tspan> <tspan x="529.20" textLength="36.60" lengthAdjust="spacingAndGlyphs">Tracking</tspan> <tspan x="569.20" textLength="32.35" lengthAdjust="spacingAndGlyphs">Project,</tspan></text>
<text y="603.00" font-size="10.4" fill="#756f6a"><tspan x="41.20" textLength="13.10" lengthAdjust="spacingAndGlyphs">the</tspan> <tspan x="57.70" textLength="12.35" lengthAdjust="spacingAndGlyphs">UK</tspan> <tspan x="73.20" textLength="19.35" lengthAdjust="spacingAndGlyphs">Dept</tspan> <tspan x="95.20" textLength="8.60" lengthAdjust="spacingAndGlyphs">of</tspan> <tspan x="106.45" textLength="28.60" lengthAdjust="spacingAndGlyphs">Health</tspan> <tspan x="138.20" textLength="6.85" lengthAdjust="spacingAndGlyphs">&amp;</tspan> <tspan x="148.70" textLength="25.85" lengthAdjust="spacingAndGlyphs">Social</tspan> <tspan x="177.45" textLength="18.85" lengthAdjust="spacingAndGlyphs">Care</tspan> <tspan x="198.70" textLength="15.60" lengthAdjust="spacingAndGlyphs">and</tspan> <tspan x="216.95" textLength="13.85" lengthAdjust="spacingAndGlyphs">the</tspan> <tspan x="233.70" textLength="33.85" lengthAdjust="spacingAndGlyphs">Spanish</tspan> <tspan x="271.40" textLength="34.50" lengthAdjust="spacingAndGlyphs">Ministry</tspan> <tspan x="309.20" textLength="8.60" lengthAdjust="spacingAndGlyphs">of</tspan> <tspan x="320.20" textLength="30.60" lengthAdjust="spacingAndGlyphs">Health.</tspan></text>
<text y="614.10" font-size="10.4" fill="#756f6a"><tspan x="41.20" textLength="18.85" lengthAdjust="spacingAndGlyphs">Data</tspan> <tspan x="62.70" textLength="36.60" lengthAdjust="spacingAndGlyphs">updated</tspan> <tspan x="101.95" textLength="35.60" lengthAdjust="spacingAndGlyphs">October</tspan> <tspan x="140.70" textLength="5.60" lengthAdjust="spacingAndGlyphs">8</tspan> <tspan x="149.45" textLength="23.10" lengthAdjust="spacingAndGlyphs">2020</tspan> <tspan x="175.70" textLength="38.10" lengthAdjust="spacingAndGlyphs">11.36am</tspan> <tspan x="216.95" textLength="18.10" lengthAdjust="spacingAndGlyphs">BST.</tspan> <tspan x="238.20" textLength="49.60" lengthAdjust="spacingAndGlyphs">Interactive</tspan> <tspan x="290.95" textLength="29.85" lengthAdjust="spacingAndGlyphs">version:</tspan> <tspan x="323.45" textLength="63.85" lengthAdjust="spacingAndGlyphs">ft.com/covid19</tspan></text>
<text x="836.9" y="593.8" font-size="17.7" fill="#c0b8b0" stroke="#c0b8b0" stroke-width="0.45" style="font-family:'Liberation Serif','Times New Roman',serif" textLength="156.1" lengthAdjust="spacingAndGlyphs">FINANCIAL TIMES</text>
</svg></body></html>
